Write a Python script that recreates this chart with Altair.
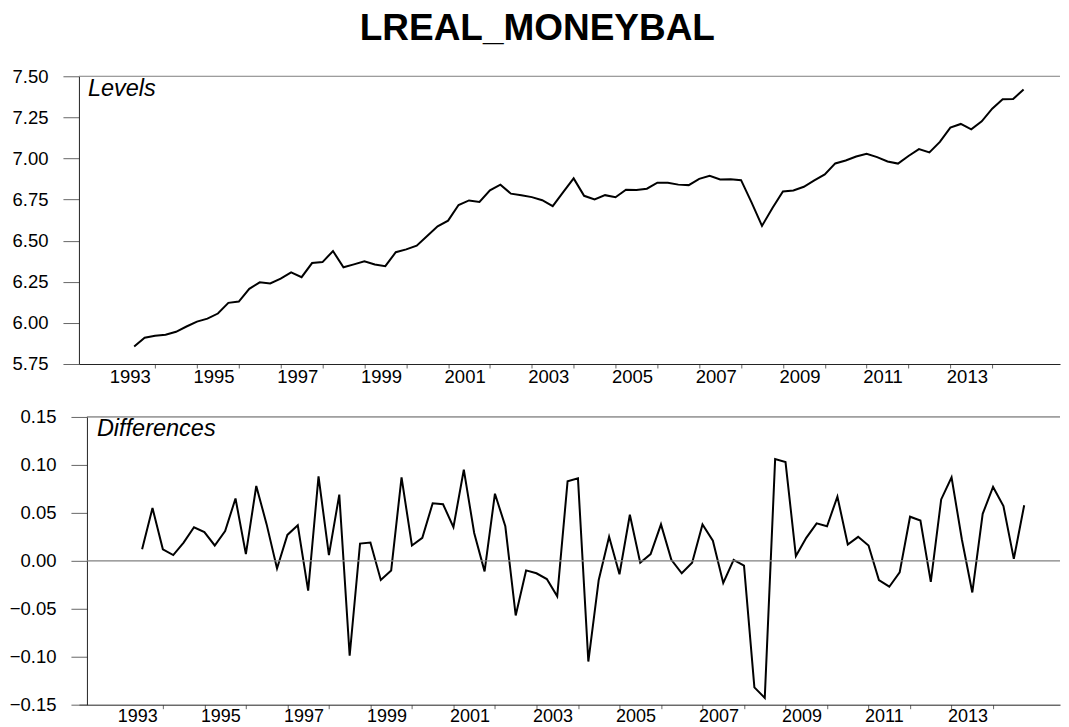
import altair as alt
import pandas as pd

FONT = "Liberation Sans"

# Quarterly observations, 1993Q3 .. 2014Q4 (positioned at quarter starts)
start_year = 1993.5
levels = [
    5.857, 5.910, 5.922, 5.928, 5.946, 5.978, 6.008, 6.026, 6.057, 6.122,
    6.130, 6.207, 6.247, 6.240, 6.269, 6.307, 6.278, 6.364, 6.370, 6.437,
    6.338, 6.356, 6.374, 6.355, 6.345, 6.430, 6.447, 6.470, 6.528, 6.587,
    6.622, 6.717, 6.745, 6.736, 6.806, 6.841, 6.786, 6.777, 6.765, 6.746,
    6.710, 6.795, 6.879, 6.773, 6.751, 6.777, 6.764, 6.810, 6.809, 6.816,
    6.853, 6.853, 6.841, 6.838, 6.876, 6.894, 6.872, 6.873, 6.868, 6.733,
    6.590, 6.699, 6.799, 6.805, 6.828, 6.867, 6.903, 6.970, 6.988, 7.012,
    7.029, 7.008, 6.982, 6.969, 7.015, 7.057, 7.037, 7.101, 7.188, 7.210,
    7.177, 7.226, 7.303, 7.360, 7.362, 7.419,
]
diffs = [
    0.012, 0.055, 0.012, 0.006, 0.019, 0.035, 0.030, 0.016, 0.031, 0.065,
    0.007, 0.078, 0.038, -0.008, 0.027, 0.037, -0.031, 0.088, 0.006, 0.069,
    -0.099, 0.018, 0.019, -0.020, -0.010, 0.087, 0.016, 0.024, 0.060, 0.059,
    0.035, 0.095, 0.029, -0.011, 0.070, 0.036, -0.057, -0.010, -0.013, -0.019,
    -0.037, 0.083, 0.086, -0.105, -0.020, 0.025, -0.014, 0.048, -0.002, 0.007,
    0.038, 0.001, -0.013, -0.002, 0.038, 0.021, -0.023, 0.001, -0.005, -0.132,
    -0.143, 0.106, 0.103, 0.005, 0.024, 0.039, 0.036, 0.067, 0.017, 0.025,
    0.016, -0.020, -0.027, -0.012, 0.046, 0.042, -0.022, 0.064, 0.087, 0.022,
    -0.033, 0.049, 0.077, 0.057, 0.002, 0.058,
]
year_ticks = list(range(1993, 2015))
level_ticks = [5.75, 6.00, 6.25, 6.50, 6.75, 7.00, 7.25, 7.50]
diff_ticks = [-0.15, -0.10, -0.05, 0.00, 0.05, 0.10, 0.15]

times = [start_year + 0.25 * i for i in range(len(levels))]
df = pd.DataFrame({"t": times, "level": levels, "diff": diffs})

W, H = 982, 288
TOP_X_DOMAIN = [1992.18, 2015.62]
BOT_SHIFT = 8  # bottom panel's y axis sits 8px right of the top one
BOT_X_DOMAIN = [1991.978, 2015.6125]


def x_axis(pad, size):
    return alt.Axis(
        values=year_ticks, format="d", title=None, grid=False,
        labelExpr="datum.value % 2 == 1 ? datum.label : ''",
        tickSize=4, tickColor="#666666", tickWidth=1,
        domainColor="#222222", domainWidth=1,
        labelPadding=pad, labelFontSize=size, labelFont=FONT, labelColor="black",
        labelAlign="left", labelOffset=-4, labelFlush=False, labelOverlap=False,
        labelBaseline="top",
        tickOpacity={"expr": "datum.value < 1993.5 ? 0 : 1"},
    )


def y_axis(vals, **kw):
    return alt.Axis(
        values=vals, format=".2f", title=None, grid=False,
        tickSize=16, tickColor="#666666", tickWidth=1,
        domainColor="#222222", domainWidth=1,
        labelPadding=15, labelFontSize=18.5, labelFont=FONT, labelColor="black",
        labelFlush=False, labelOverlap=False, **kw
    )


one = pd.DataFrame({"k": [0]})

# ---- top panel: levels
top_line = alt.Chart(df).mark_line(color="black", strokeWidth=2).encode(
    x=alt.X("t:Q", scale=alt.Scale(domain=TOP_X_DOMAIN, nice=False, zero=False),
            axis=x_axis(0, 18.5)),
    y=alt.Y("level:Q", scale=alt.Scale(domain=[5.75, 7.5], nice=False, zero=False),
            axis=y_axis(level_ticks, minExtent=71, maxExtent=71)),
)
top_border = alt.Chart(one).mark_rule(color="#808080", strokeWidth=1).encode(
    x=alt.value(0), x2=alt.value(W), y=alt.value(0)
)
top_text = alt.Chart(one).mark_text(
    align="left", baseline="alphabetic", fontSize=23.5, fontStyle="italic", font=FONT, color="black"
).encode(x=alt.value(9), y=alt.value(20), text=alt.value("Levels"))

top = alt.layer(top_line, top_border, top_text).properties(width=W, height=H)

# ---- bottom panel: differences
bot_zero = alt.Chart(one).mark_rule(color="#808080", strokeWidth=1.2).encode(
    x=alt.value(BOT_SHIFT), x2=alt.value(W), y=alt.datum(0)
)
bot_line = alt.Chart(df).mark_line(color="black", strokeWidth=2).encode(
    x=alt.X("t:Q", scale=alt.Scale(domain=BOT_X_DOMAIN, nice=False, zero=False),
            axis=x_axis(-1, 18)),
    y=alt.Y("diff:Q", scale=alt.Scale(domain=[-0.15, 0.15], nice=False, zero=False),
            axis=y_axis(diff_ticks, offset=-BOT_SHIFT, minExtent=40, maxExtent=71)),
)
bot_border = alt.Chart(one).mark_rule(color="#555555", strokeWidth=1).encode(
    x=alt.value(BOT_SHIFT), x2=alt.value(W), y=alt.value(0)
)
bot_text = alt.Chart(one).mark_text(
    align="left", baseline="alphabetic", fontSize=23.5, fontStyle="italic", font=FONT, color="black"
).encode(x=alt.value(BOT_SHIFT + 10), y=alt.value(19), text=alt.value("Differences"))

bottom = alt.layer(bot_line, bot_zero, bot_border, bot_text).properties(width=W, height=H)

chart = (
    alt.vconcat(top, bottom, spacing=21)
    .properties(
        title=alt.Title("LREAL_MONEYBAL", fontSize=37, fontWeight="bold", font=FONT,
                        anchor="middle", offset=19, color="black", dx=3),
        padding={"left": 0, "top": 2, "right": 0, "bottom": 0},
        background="white",
    )
    .configure_view(stroke=None)
)

chart.save("out.html", embed_options={"renderer": "svg", "actions": False})
